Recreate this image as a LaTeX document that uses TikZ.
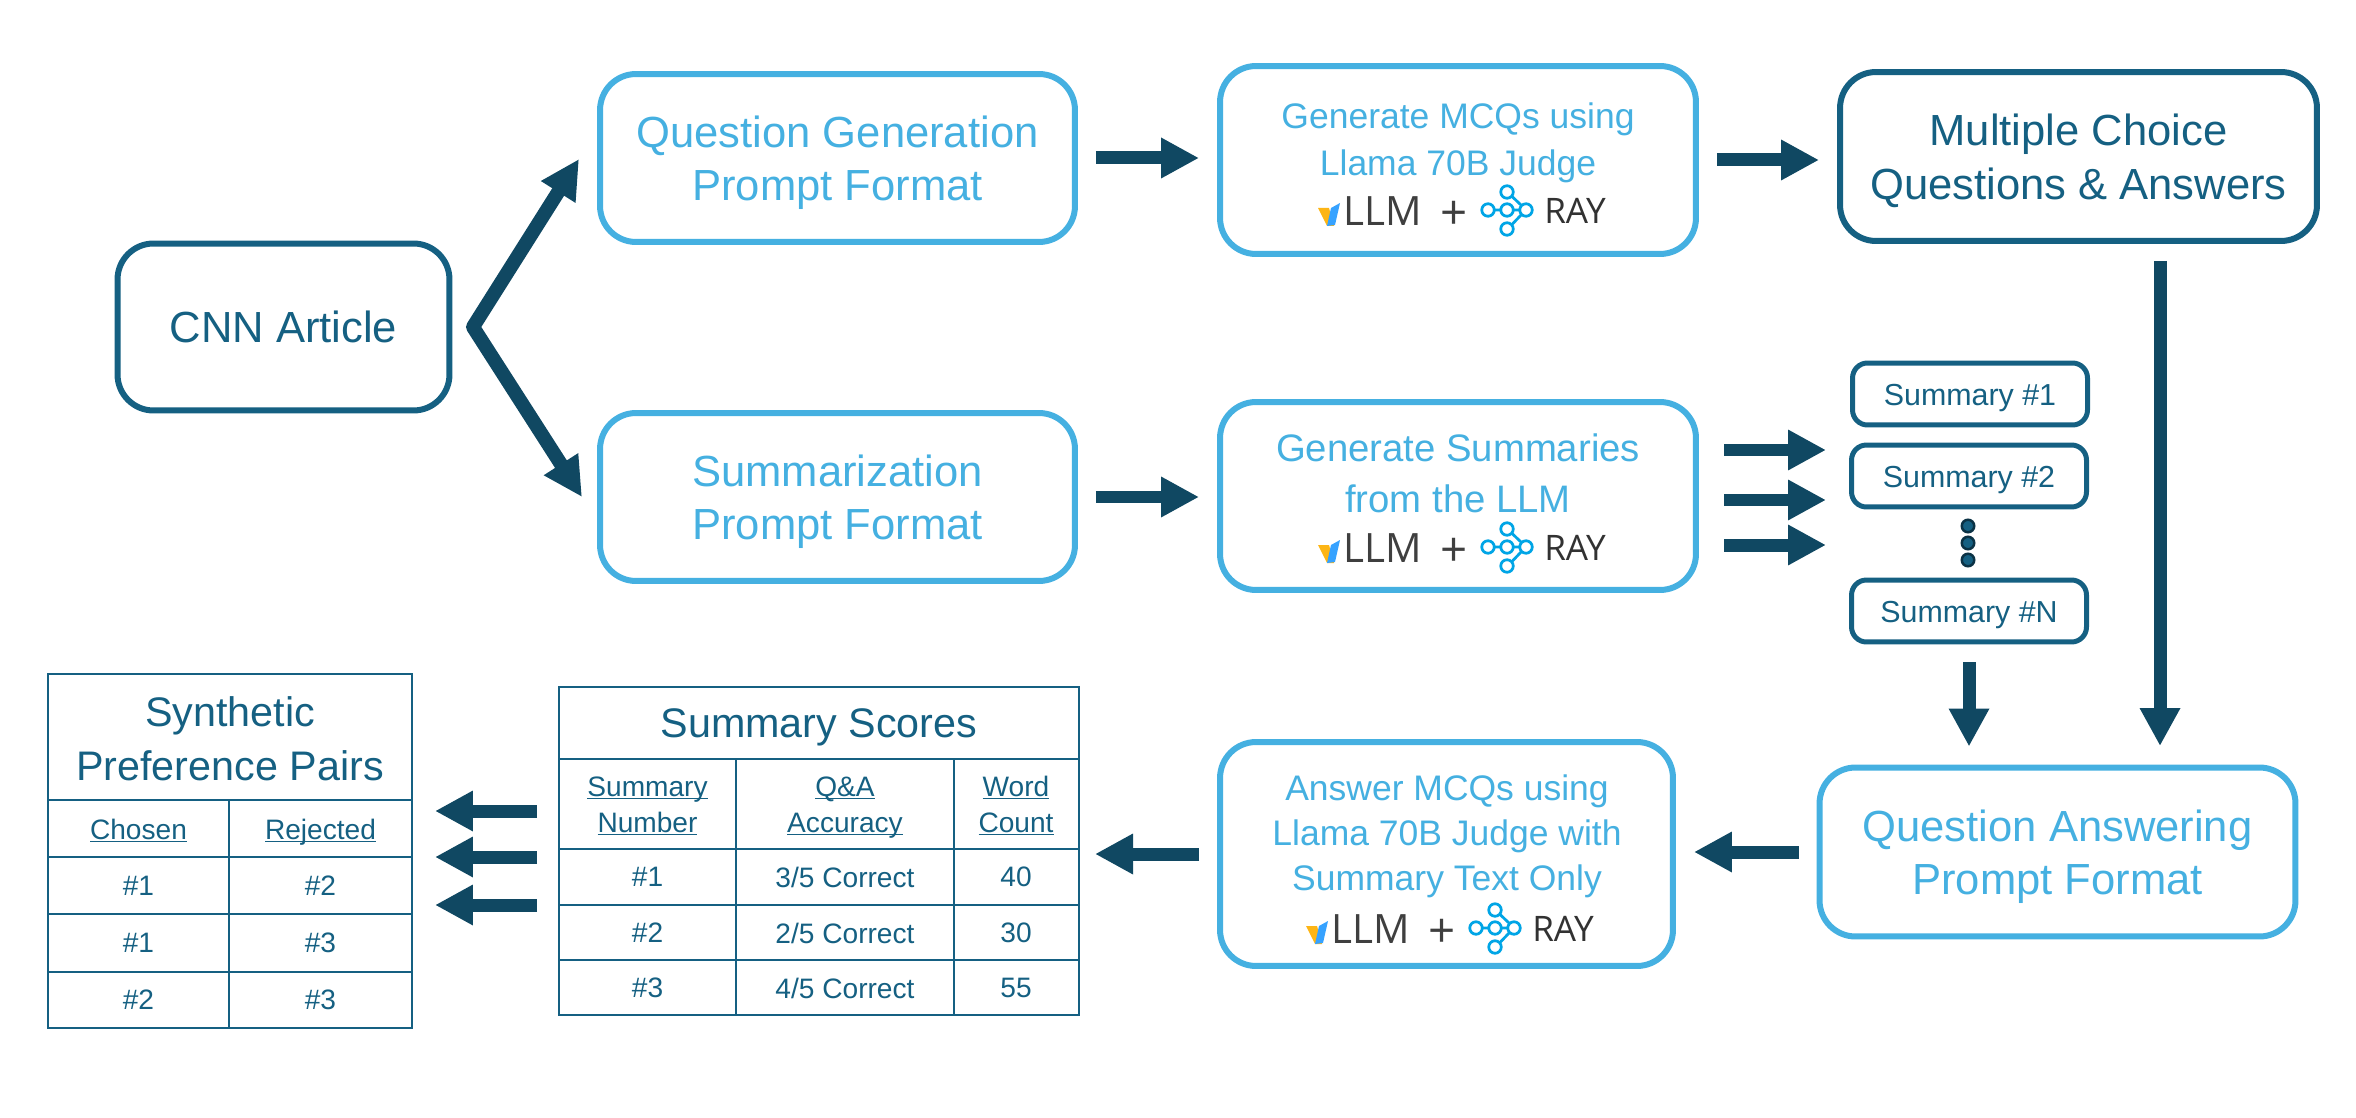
\documentclass[tikz,border=0pt]{standalone}
\usepackage{fontspec}
\setmainfont{Liberation Sans}
\newfontfamily\logofont{Open Sans}
\usetikzlibrary{arrows.meta}
\definecolor{darkline}{HTML}{156082}
\definecolor{lightline}{HTML}{45B0E1}
\definecolor{arrowfill}{HTML}{104862}
\definecolor{raycol}{HTML}{00A5E6}
\definecolor{logogray}{HTML}{3F3F3F}
\definecolor{logoblue}{HTML}{36A2FF}
\definecolor{logoamber}{HTML}{FDB515}
\newcommand{\ul}[1]{\underline{\smash{#1}}}
\newcommand{\bigstrut}{\rule{0pt}{0.82cm}}
\newcommand{\smallstrut}{\rule{0pt}{0.6cm}}
\tikzset{
  bigbox/.style={draw,rounded corners=0.72cm,line width=0.12cm,fill=white,align=center,inner sep=0pt},
  lightbox/.style={bigbox,draw=lightline,text=lightline},
  darkbox/.style={bigbox,draw=darkline,text=darkline},
  smallbox/.style={draw=darkline,text=darkline,rounded corners=0.3cm,line width=0.1cm,inner sep=0pt,
    minimum width=4.7cm,minimum height=1.24cm,font=\fontsize{17.3}{21}\selectfont},
  bigtext/.style={font=\fontsize{24.8}{30.7}\selectfont},
  midtext/.style={text=lightline,align=center,font=\fontsize{20.2}{27}\selectfont},
  cell/.style={text=darkline,align=center,inner sep=0pt,font=\fontsize{16}{20.5}\selectfont},
  tabtitle/.style={text=darkline,align=center,inner sep=0pt,font=\fontsize{23.5}{30.7}\selectfont},
  tabline/.style={draw=darkline,line width=0.05cm},
  bigarrow/.style={draw=arrowfill,line width=0.26cm,-{Triangle[length=0.76cm,width=0.76cm]},
    shorten <=0.36cm,shorten >=0.36cm},
  freearrow/.style={bigarrow,shorten <=0pt,shorten >=0pt},
  dot/.style={circle,draw=arrowfill!70!black,fill=darkline,line width=0.05cm,inner sep=0pt,minimum size=0.25cm},
  logorow/.pic={
    \fill[logoamber] (-189,-2) -- (-178,-2) -- (-173,16) -- (-180,16) -- cycle;
    \fill[logoblue] (-167,-7) -- (-172,15) -- (-180,16) -- (-176,-2) -- cycle;
    \node[text=logogray,font=\logofont\fontsize{23}{23}\selectfont,inner sep=0pt] (-llm) at (-124,1) {LLM};
    \node[text=logogray,font=\logofont\fontsize{27}{27}\selectfont,inner sep=0pt] (-plus) at (-53,5) {+};
    \node[text=logogray!80!black,font=\logofont\fontsize{20}{20}\selectfont,inner sep=0pt] (-ray) at (68,1) {RAY};
    \draw[raycol,line width=0.055cm] (-13,0) -- (-6,0) (6,0) -- (13,0)
      (4.5,-14) -- (14.5,-4.5) (4.5,15) -- (14.5,4.5)
      (-19,0) circle (0.125cm) (0,0) circle (0.125cm) (19,0) circle (0.125cm) (0,-18) circle (0.125cm) (0,19) circle (0.125cm);
  }
}
\begin{document}
\begin{tikzpicture}[x=0.02cm,y=-0.02cm]
\useasboundingbox (0,0) rectangle (2356,1118);

\node[darkbox,bigtext,minimum width=6.64cm,minimum height=3.34cm] (cnn) at (283.5,327) {CNN Article};
\node[lightbox,bigtext,minimum width=9.5cm,minimum height=3.36cm] (qgen) at (837.5,158) {\bigstrut Question Generation\\Prompt Format};
\node[lightbox,bigtext,minimum width=9.5cm,minimum height=3.36cm] (sumfmt) at (837.5,497) {\bigstrut Summarization\\Prompt Format};
\node[lightbox,minimum width=9.52cm,minimum height=3.76cm] (mcq) at (1458,160) {};
\node[lightbox,minimum width=9.52cm,minimum height=3.76cm] (gensum) at (1458,496) {};
\node[lightbox,minimum width=9.06cm,minimum height=4.48cm] (ans) at (1446.5,854) {};
\node[darkbox,bigtext,minimum width=9.54cm,minimum height=3.38cm] (mc) at (2078.5,156.5) {\bigstrut Multiple Choice\\Questions \& Answers};
\node[lightbox,bigtext,minimum width=9.52cm,minimum height=3.38cm] (qap) at (2057.5,852) {\bigstrut Question Answering\\Prompt Format};

\node[midtext] (mcqtext) at (1458,143) {Generate MCQs using\\Llama 70B Judge};
\node[midtext,font=\fontsize{21.8}{29}\selectfont] (sumtext) at (1458,473) {Generate Summaries\\from the LLM};
\node[midtext,font=\fontsize{20.2}{25.6}\selectfont] (anstext) at (1447,836) {Answer MCQs using\\Llama 70B Judge with\\Summary Text Only};
\pic (lga) at (1507,210) {logorow};
\pic (lgb) at (1507,547) {logorow};
\pic (lgc) at (1495,928) {logorow};

\node[smallbox] (suma) at (1970,394) {\smallstrut Summary \#1};
\node[smallbox] (sumb) at (1969,476) {\smallstrut Summary \#2};
\node[smallbox] (sumn) at (1969,611) {\smallstrut Summary \#N};
\foreach \i/\y in {1/526,2/543,3/560}
  \node[dot] (dot\i) at (1968,\y) {};

% scores table
\draw[tabline] (559,687) rectangle (1079,1015);
\foreach \y in {759,849,905,960}
  \draw[tabline] (559,\y) -- (1079,\y);
\foreach \x in {736,954}
  \draw[tabline] (\x,759) -- (\x,1015);
\node[tabtitle] (sctitle) at (819,727) {Summary Scores};
\node[cell] (schdra) at (647.5,816) {\ul{Summary}\\\ul{Number}};
\node[cell] (schdrb) at (845,816) {\ul{Q\&A}\\\ul{Accuracy}};
\node[cell] (schdrc) at (1016,816) {\ul{Word}\\\ul{Count}};
\foreach \i/\y/\c/\w in {1/877/3/40,2/933/2/30,3/988/4/55}{
  \node[cell] (sca\i) at (647.5,\y) {\#\i};
  \node[cell] (scb\i) at (845,\y) {\c/5 Correct};
  \node[cell] (scc\i) at (1016,\y) {\w};
}

% pairs table
\draw[tabline] (48,674) rectangle (412,1028);
\foreach \y in {800,857,914,972}
  \draw[tabline] (48,\y) -- (412,\y);
\draw[tabline] (229,800) -- (229,1028);
\node[tabtitle] (prtitle) at (230,739) {Synthetic\\Preference Pairs};
\node[cell] (prhdra) at (138.5,841) {\ul{Chosen}};
\node[cell] (prhdrb) at (320.5,841) {\ul{Rejected}};
\foreach \i/\y/\a/\b in {1/886/1/2,2/943/1/3,3/1000/2/3}{
  \node[cell] (pra\i) at (138.5,\y) {\#\a};
  \node[cell] (prb\i) at (320.5,\y) {\#\b};
}

% arrows
\coordinate (forkpt) at (473,327);
\coordinate (qtip) at (579,159);
\coordinate (stip) at (582,497);
\draw[draw=arrowfill,line width=0.28cm,line join=round,
  {Triangle[length=0.78cm,width=0.76cm]}-{Triangle[length=0.78cm,width=0.76cm]}] (qtip) -- (forkpt) -- (stip);

\draw[bigarrow] (qgen.east) -- (qgen.east -| mcq.west);
\draw[bigarrow] (sumfmt.east) -- (sumfmt.east -| gensum.west);
\draw[bigarrow] (mcq.east) -- (mcq.east -| mc.west);
\foreach \i/\y in {1/450,2/500,3/545}{
  \coordinate (gsa\i) at (1724,\y);
  \coordinate (gsb\i) at (1826,\y);
  \draw[freearrow] (gsa\i) -- (gsb\i);
}
\coordinate (mctail) at (2160,261);
\coordinate (mctip) at (2160,746);
\draw[freearrow] (mctail) -- (mctip);
\draw[bigarrow] (sumn.south) -- (sumn.south |- qap.north);
\draw[bigarrow] (qap.west) -- (qap.west -| ans.east);
\coordinate (sceast) at (1095,854);
\draw[bigarrow,shorten >=0pt] (ans.west) -- (sceast);
\foreach \i/\y in {1/811,2/857,3/905}{
  \coordinate (tba\i) at (537,\y);
  \coordinate (tbb\i) at (435,\y);
  \draw[freearrow] (tba\i) -- (tbb\i);
}
\end{tikzpicture}
\end{document}
